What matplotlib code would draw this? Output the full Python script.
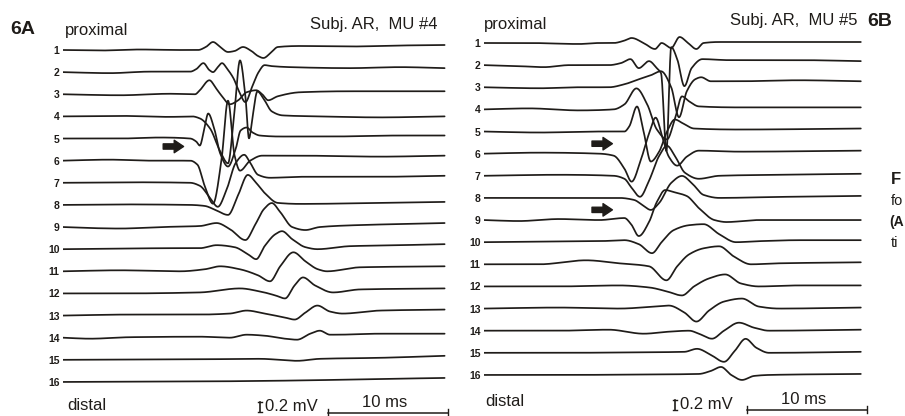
import numpy as np
import matplotlib
matplotlib.use('Agg')
import matplotlib.pyplot as plt

# channel labels, 1 = proximal ... 16 = distal
channels = [str(i) for i in range(1, 17)]

# panel A  (Subj. AR, MU #4): keypoints per channel, time in ms, amplitude in mV
a_times = [
    [0, 3.1, 6.4, 9.75, 11.25, 11.9, 12.5, 13.1, 13.75, 14.3, 15, 15.7, 16.25, 16.7, 17.3, 17.9, 19.75, 23.9, 28.1, 31.8],
    [0, 3.9, 7.25, 10.6, 11.1, 11.7, 12.2, 12.5, 12.9, 13.25, 13.7, 14.2, 14.7, 15.2, 15.75, 16.3, 16.8, 17.4, 18.9, 23.9, 28.1, 31.8],
    [0, 4.75, 8.9, 11, 11.4, 12.2, 12.75, 13.25, 13.9, 14.6, 15.3, 16.1, 16.6, 17.1, 17.9, 19.75, 23.9, 28.1, 31.8],
    [0, 4.75, 8.9, 10.75, 11.4, 12.25, 13.1, 13.75, 14.25, 14.75, 15.2, 15.5, 15.8, 16.2, 16.7, 17.4, 18.3, 21.4, 26.4, 31.8],
    [0, 4.75, 8.1, 10.6, 11.1, 11.4, 11.75, 12.1, 12.6, 13.1, 13.75, 14.4, 14.8, 15.3, 15.8, 16.4, 18.1, 22.25, 28.1, 31.8],
    [0, 3.9, 7.25, 10.6, 11.2, 11.8, 12.5, 13.2, 13.75, 14.3, 14.75, 15.6, 16.6, 19.75, 26.4, 31.8],
    [0, 5.6, 10.6, 11.4, 12.25, 12.9, 13.6, 14.4, 15.1, 15.6, 16.25, 17.25, 19.75, 26.4, 31.8],
    [0, 4.75, 10.6, 11.8, 12.7, 13.75, 14.6, 15.4, 16.1, 16.8, 17.9, 19.75, 26.4, 31.8],
    [0, 2.25, 4.75, 8.1, 11.4, 12.8, 13.9, 15.2, 16, 16.75, 17.4, 18.1, 19.1, 20.2, 21.4, 24.75, 28.1, 31.8],
    [0, 4.75, 8.9, 11.4, 12.8, 14.3, 15.4, 16.1, 16.8, 17.7, 18.25, 19.1, 20.2, 21.2, 23.9, 28.1, 31.8],
    [0, 4.75, 9.75, 11.8, 13.1, 14.75, 16.25, 17.25, 18.1, 19.2, 20.2, 21.25, 22, 24.75, 31.8],
    [0, 4.75, 11.4, 14.75, 16.4, 17.7, 18.5, 19.3, 20, 21, 22.5, 24.75, 31.8],
    [0, 5.6, 11.4, 13.9, 15.3, 16.8, 18.5, 19.3, 20.2, 21.2, 22.25, 23.3, 26.4, 31.8],
    [0, 2.25, 5.6, 11.4, 13.9, 15.3, 16.8, 18.5, 19.5, 20.6, 21.4, 22.25, 22.8, 26.4, 31.8],
    [0, 11.4, 16.4, 19.5, 21.4, 26.4, 31.8],
    [0, 11.4, 19.75, 26.4, 31.8],
]
a_volts = [
    [0, -0.01, 0.01, 0, 0, 0.06, 0.16, 0.06, -0.04, -0.02, 0.06, -0.02, -0.12, -0.16, -0.06, 0.06, 0.08, 0.07, 0.09, 0.1],
    [0, -0.02, 0.01, 0.01, 0.06, 0.18, 0.04, 0, 0.1, 0.18, 0.06, -0.12, -0.4, -0.6, -0.3, 0, 0.14, 0.12, 0.1, 0.08, 0.1, 0.08],
    [0, -0.02, 0.01, 0, 0.08, 0.28, 0.12, -0.04, -0.2, -0.12, 0.04, 0.08, 0, -0.12, -0.04, 0.04, 0.06, 0.06, 0.06],
    [0, 0.01, -0.01, 0, -0.04, -0.24, -0.7, -0.94, 0, 1.12, 0.4, -0.44, 0, 0.5, 0.36, 0.1, 0.02, 0, -0.02, 0],
    [0, 0, 0.02, 0, -0.06, -0.14, 0.16, 0.5, 0.2, -0.3, -0.56, -0.2, 0.16, 0.22, 0.12, 0.06, 0.04, 0.04, 0.06, 0.06],
    [0, 0.02, 0, 0, -0.08, -0.5, -0.86, 0, 1.2, 0.1, -0.2, 0, 0.1, 0.1, 0.08, 0.1],
    [0, 0.01, 0, -0.06, -0.3, -0.48, -0.16, 0.4, 0.56, 0.4, 0.16, 0.1, 0.12, 0.12, 0.14],
    [0, 0.01, 0, -0.02, -0.1, -0.2, 0.2, 0.6, 0.44, 0.24, 0.04, 0.02, 0.04, 0.06],
    [0, -0.02, -0.03, 0, 0.02, 0.08, -0.04, -0.26, 0.04, 0.36, 0.48, 0.3, 0, -0.06, 0, 0.04, 0.06, 0.08],
    [0, 0.01, 0.02, 0.02, 0.08, 0.04, -0.1, -0.2, 0.06, 0.3, 0.36, 0.2, 0.04, 0, 0.06, 0.08, 0.1],
    [0, 0.02, 0, 0.04, 0.1, 0.04, -0.08, -0.2, 0.1, 0.38, 0.2, 0.04, 0, 0.08, 0.1],
    [0, 0, 0.02, 0.1, 0.04, -0.04, -0.1, 0.16, 0.32, 0.16, 0.02, 0.08, 0.1],
    [0, 0.02, 0.02, 0.04, 0.1, 0.04, -0.04, -0.08, 0.06, 0.2, 0.08, 0.04, 0.1, 0.12],
    [0, -0.02, 0.01, 0.02, 0, 0.06, 0.04, -0.02, -0.04, 0.08, 0.14, 0.06, 0.06, 0.08, 0.08],
    [0, 0.01, 0.02, -0.02, 0.02, 0.04, 0.08],
    [0, 0.01, 0.03, 0.06, 0.08],
]

# panel B  (Subj. AR, MU #5)
b_times = [
    [0, 3.75, 7.9, 9.6, 10.8, 11.6, 12.3, 13.3, 14.25, 14.8, 15.6, 16.3, 17, 17.7, 18.3, 19.6, 24.6, 31.4],
    [0, 2.9, 5, 7.1, 10.4, 11.4, 12.2, 12.9, 13.75, 14.4, 14.75, 15.2, 15.6, 16.1, 16.7, 17.3, 18.2, 20.4, 26.25, 31.4],
    [0, 4.6, 7.9, 10.4, 11.7, 12.9, 13.9, 14.75, 15.6, 16.25, 16.9, 17.6, 18.1, 18.9, 21.25, 26.25, 31.4],
    [0, 3.75, 7.9, 10.8, 11.7, 12.7, 13.6, 14.4, 15.25, 15.9, 16.5, 17.1, 17.9, 21.25, 26.25, 31.4],
    [0, 4.6, 9.6, 11.7, 12.1, 12.75, 13.3, 13.9, 14.6, 15.25, 15.9, 16.6, 17.5, 21.25, 31.4],
    [0, 4.6, 9.6, 10.8, 11.7, 12.3, 13.1, 13.75, 14.3, 14.9, 15.4, 16.1, 16.9, 17.9, 21.25, 31.4],
    [0, 6.25, 10.8, 11.7, 12.3, 13, 13.75, 14.6, 15.25, 15.9, 16.75, 17.9, 19.6, 24.6, 31.4],
    [0, 6.25, 11.25, 12.5, 13.3, 13.9, 14.6, 15.6, 16.5, 17.3, 18.3, 19.6, 24.6, 31.4],
    [0, 2.9, 6.25, 9.6, 11.7, 12.25, 12.9, 13.75, 14.4, 15.1, 15.8, 16.9, 17.9, 19.2, 20.2, 22.9, 31.4],
    [0, 4.6, 9.6, 11.7, 12.9, 14, 14.8, 15.8, 17.1, 18.3, 19.6, 21, 22.9, 26.25, 31.4],
    [0, 4.6, 8.5, 11.25, 13.75, 15.2, 16.1, 17.1, 18.3, 19.6, 20.8, 22.25, 24.6, 31.4],
    [0, 6.25, 11.25, 13.75, 15.25, 16.5, 17.5, 18.75, 20.1, 21.4, 22.9, 26.25, 31.4],
    [0, 6.25, 11.25, 14.2, 15.4, 16.7, 17.7, 18.75, 20, 21.5, 22.9, 24.6, 31.4],
    [0, 6.25, 10.4, 13.3, 15.4, 17.1, 17.9, 19, 20, 21.25, 22.5, 23.75, 31.4],
    [0, 6.25, 12.9, 16.7, 17.75, 18.9, 20, 20.9, 21.8, 22.7, 23.75, 31.4],
    [0, 6.25, 13.75, 17.9, 18.9, 19.75, 20.6, 21.5, 22.5, 23.75, 31.4],
]
b_volts = [
    [0, 0, -0.02, 0, 0, 0.04, 0.1, 0, -0.12, 0, -0.1, 0.12, 0, -0.12, 0, 0.02, 0.02, 0.02],
    [0, -0.02, -0.04, 0, 0, 0.04, 0.12, -0.06, 0.08, -0.06, -0.16, -1.72, 0.36, 0.12, -0.42, -0.06, 0.12, 0.1, 0.1, 0.08],
    [0, -0.02, 0, 0, 0.06, 0.16, 0.24, 0.32, 0, -0.6, -0.08, 0.16, 0.2, 0.12, 0.12, 0.14, 0.12],
    [0, 0.02, -0.02, 0, 0.1, 0.42, 0.1, -0.4, -0.6, -0.2, 0.26, 0.16, 0.06, 0.04, 0.04, 0.04],
    [0, -0.02, 0, 0, 0.1, 0.5, 0, -0.6, -0.4, 0, 0.24, 0.16, 0.06, 0.04, 0.06],
    [0, 0.02, 0, -0.04, -0.3, -0.56, -0.1, 0.4, 0.72, 0.3, -0.06, -0.24, -0.06, 0.06, 0.04, 0.06],
    [0, 0.02, 0, -0.06, -0.24, -0.42, -0.1, 0.4, 0.6, 0.4, 0.06, -0.06, 0, 0.02, 0.04],
    [0, 0, 0, -0.04, -0.16, -0.24, -0.1, 0.3, 0.44, 0.3, 0.06, 0, 0.02, 0.04],
    [0, -0.02, 0.02, 0, 0.04, -0.08, -0.32, -0.04, 0.36, 0.6, 0.56, 0.48, 0.24, 0, -0.04, 0, 0],
    [0, 0.01, 0.02, 0.04, -0.04, -0.22, 0, 0.24, 0.34, 0.36, 0.16, 0, 0.02, 0.04, 0.04],
    [0, 0, 0.08, 0.02, -0.04, -0.32, -0.04, 0.2, 0.32, 0.36, 0.16, 0, 0.02, 0.04],
    [0, 0, 0.02, -0.02, -0.1, -0.18, 0, 0.16, 0.24, 0.06, 0, 0.02, 0.02],
    [0, 0.02, 0, 0.04, 0.06, -0.08, -0.26, -0.04, 0.14, 0.2, 0.04, 0, 0.02],
    [0, 0, 0.02, -0.06, -0.02, 0, -0.06, -0.16, 0, 0.16, 0.06, 0, 0.02],
    [0, 0, 0.01, 0.02, 0.08, -0.04, -0.18, 0.04, 0.28, 0.1, 0, 0.02],
    [0, 0, 0.01, 0.02, 0.08, 0.16, 0, -0.1, -0.02, 0, 0.02],
]

ink = '#1f1c19'
spacing = 0.4426          # mV between neighbouring channels on the page


def pchip(x, y, xs):
    # monotone cubic through the read-off points, so peaks stay where they were read
    x = np.asarray(x, float)
    y = np.asarray(y, float)
    h = np.diff(x)
    d = np.diff(y) / h
    m = np.zeros_like(y)
    for k in range(1, len(x) - 1):
        if d[k - 1] * d[k] > 0:
            w1 = 2 * h[k] + h[k - 1]
            w2 = h[k] + 2 * h[k - 1]
            m[k] = (w1 + w2) / (w1 / d[k - 1] + w2 / d[k])
    m[0] = d[0]
    m[-1] = d[-1]
    i = np.clip(np.searchsorted(x, xs) - 1, 0, len(h) - 1)
    t = (xs - x[i]) / h[i]
    return ((2 * t**3 - 3 * t**2 + 1) * y[i] + (t**3 - 2 * t**2 + t) * h[i] * m[i]
            + (-2 * t**3 + 3 * t**2) * y[i + 1] + (t**3 - t**2) * h[i] * m[i + 1])


plt.rcParams['font.family'] = ['Liberation Sans', 'DejaVu Sans']
fig = plt.figure(figsize=(9.05, 4.16), dpi=100)


def panel(left, first, times, volts):
    ax = fig.add_axes([left / 905, 0, 390 / 905, 1])
    ax.set_xlim(0, 32.5)
    ax.set_ylim(-8.32, 0)
    for s in ax.spines.values():
        s.set_visible(False)
    ax.set_xticks([])
    offs = -(first + np.arange(16) * spacing)
    for k in range(16):
        ts = np.linspace(times[k][0], times[k][-1], 1200)
        ax.plot(ts, pchip(times[k], volts[k], ts) + offs[k], color=ink, lw=1.25,
                solid_capstyle='round', solid_joinstyle='round')
    ax.set_yticks(offs)
    ax.set_yticklabels(channels, fontsize=7.5, fontweight='bold', color=ink)
    ax.tick_params(axis='y', length=0, pad=2.5)
    return ax, offs


def scale_bars(ax, t_mv, y_mv, t_ms, y_ms):
    # 0.2 mV vertical bar with serifs, 10 ms horizontal bar with end ticks
    ax.plot([t_mv, t_mv], [y_mv, y_mv + 0.2], color=ink, lw=1.2, clip_on=False)
    for yy in (y_mv, y_mv + 0.2):
        ax.plot([t_mv - 0.17, t_mv + 0.17], [yy, yy], color=ink, lw=1.0, clip_on=False)
    ax.text(t_mv + 0.45, y_mv + 0.1, '0.2 mV', fontsize=12, va='center', ha='left', color=ink)
    ax.plot([t_ms, t_ms + 10], [y_ms, y_ms], color=ink, lw=1.1, clip_on=False)
    for tt in (t_ms, t_ms + 10):
        ax.plot([tt, tt], [y_ms - 0.07, y_ms + 0.07], color=ink, lw=1.0, clip_on=False)
    ax.text(t_ms + 4.7, y_ms + 0.2, '10 ms', fontsize=12, va='center', ha='center', color=ink)


def arrow(ax, t, y):
    ax.annotate('', xy=(t + 1.7, y), xytext=(t, y),
                arrowprops=dict(arrowstyle='simple,head_length=0.75,head_width=1.0,tail_width=0.42',
                                mutation_scale=9, color=ink, shrinkA=0, shrinkB=0))


ax_a, off_a = panel(63, 1.0, a_times, a_volts)
ax_b, off_b = panel(484, 0.86, b_times, b_volts)

# panel A labels
ax_a.text(-4.4, -0.58, '6A', fontsize=14, fontweight='bold', ha='left', va='center', color=ink)
ax_a.text(0.15, -0.62, 'proximal', fontsize=12, ha='left', va='center', color=ink)
ax_a.text(31.2, -0.5, 'Subj. AR,  MU #4', fontsize=12, ha='right', va='center', color=ink)
ax_a.text(0.35, -8.12, 'distal', fontsize=12, ha='left', va='center', color=ink)
scale_bars(ax_a, 16.4, -8.24, 22.1, -8.26)
arrow(ax_a, 8.35, off_a[4] + 0.36 * (off_a[5] - off_a[4]))

# panel B labels
ax_b.text(0.0, -0.5, 'proximal', fontsize=12, ha='left', va='center', color=ink)
ax_b.text(31.1, -0.42, 'Subj. AR,  MU #5', fontsize=12, ha='right', va='center', color=ink)
ax_b.text(31.9, -0.42, '6B', fontsize=14, fontweight='bold', ha='left', va='center', color=ink)
ax_b.text(0.1, -8.04, 'distal', fontsize=12, ha='left', va='center', color=ink)
scale_bars(ax_b, 15.9, -8.2, 21.9, -8.2)
arrow(ax_b, 9.0, off_b[4] + 0.55 * (off_b[5] - off_b[4]))
arrow(ax_b, 9.0, off_b[7] + 0.54 * (off_b[8] - off_b[7]))

# caption fragments at the right edge
ax_b.text(33.9, -3.6, 'F', fontsize=12, fontweight='bold', ha='left', va='center', color=ink)
ax_b.text(33.9, -4.02, 'fo', fontsize=10.5, ha='left', va='center', color=ink)
ax_b.text(33.8, -4.44, '(A', fontsize=10, fontweight='bold', ha='left', va='center', color=ink)
ax_b.text(33.9, -4.86, 'ti', fontsize=10.5, ha='left', va='center', color=ink)

fig.savefig('out.png', dpi=100)
